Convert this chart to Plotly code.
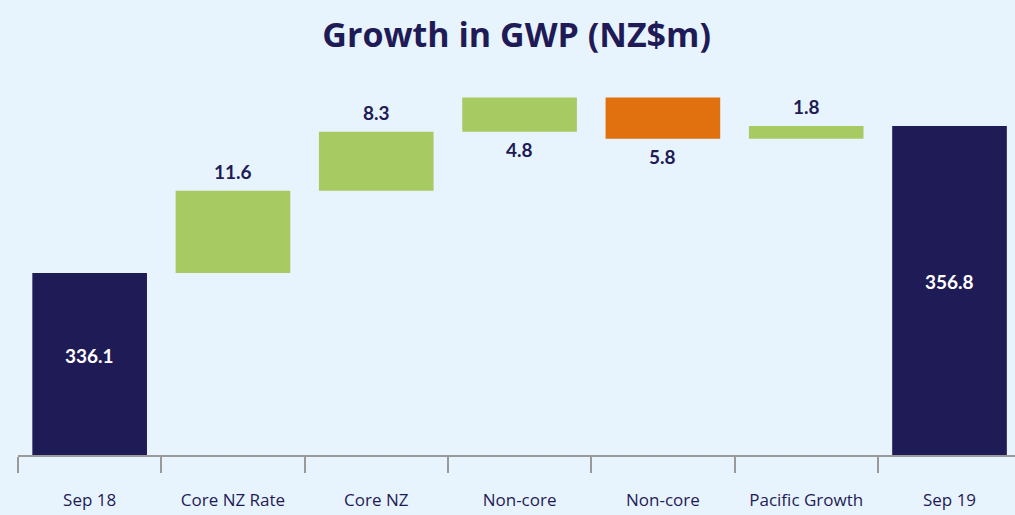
import numpy as np
import plotly.graph_objects as go

# GWP bridge, NZ$m
categories = ["Sep 18", "Core NZ Rate", "Core NZ<br>Volume", "Non-core<br>NZ Rate",
              "Non-core<br>NZ Volume", "Pacific Growth", "Sep 19"]
measures = ["absolute", "relative", "relative", "relative", "relative", "relative", "total"]
values = [336.1, 11.6, 8.3, 4.8, -5.8, 1.8, 0]
labels = ["336.1", "11.6", "8.3", "4.8", "5.8", "1.8", "356.8"]
label_place = ["inside", "above", "above", "below", "below", "above", "inside"]

NAVY = "#1f1b56"
GREEN = "#a8ca62"
ORANGE = "#e0710e"
BG = "#e8f4fd"

y_min = 310.47
y_max = 363.28

# running totals -> bar ends
ends = np.cumsum(values)
starts = ends - np.array(values)
ends[-1] = ends[-2]
starts[-1] = 0

fig = go.Figure(go.Waterfall(
    x=categories,
    measure=measures,
    y=values,
    increasing={"marker": {"color": GREEN}},
    decreasing={"marker": {"color": ORANGE}},
    totals={"marker": {"color": NAVY}},
    connector={"visible": False},
    textposition="none",
    hoverinfo="skip",
))

for i, cat in enumerate(categories):
    top = max(starts[i], ends[i])
    bot = min(starts[i], ends[i])
    if label_place[i] == "inside":
        fig.add_annotation(x=cat, y=(y_min + top) / 2, text="<b>%s</b>" % labels[i], showarrow=False,
                           yanchor="middle", yshift=9,
                           font=dict(color="white", size=19, family="Lato"))
    elif label_place[i] == "above":
        fig.add_annotation(x=cat, y=top, text="<b>%s</b>" % labels[i], showarrow=False,
                           yanchor="bottom", yshift=6,
                           font=dict(color=NAVY, size=19, family="Lato"))
    else:
        fig.add_annotation(x=cat, y=bot, text="<b>%s</b>" % labels[i], showarrow=False,
                           yanchor="top", yshift=-4,
                           font=dict(color=NAVY, size=19, family="Lato"))

fig.update_layout(
    width=1015,
    height=515,
    margin=dict(l=18, r=0, t=80, b=60),
    paper_bgcolor=BG,
    plot_bgcolor=BG,
    showlegend=False,
    bargap=0.19,
    title=dict(text="<b>Growth in GWP (NZ$m)</b>", x=0.509, xanchor="center",
               y=1 - 35 / 515, yanchor="middle", yref="container",
               font=dict(size=34, color=NAVY, family="Open Sans")),
    xaxis=dict(
        range=[-0.5, 6.457],
        showline=True, linecolor="#9a9a9a", linewidth=2,
        ticks="outside", tickson="boundaries", ticklen=16, tickcolor="#9a9a9a", tickwidth=2,
        ticklabelstandoff=29,
        tickfont=dict(size=17, color=NAVY, family="Open Sans"),
        showgrid=False, automargin=False, fixedrange=True,
    ),
    yaxis=dict(range=[y_min, y_max], visible=False, fixedrange=True),
)

fig.write_html("out.html", config={"displayModeBar": False},
               post_script="document.body.style.margin='0';")
